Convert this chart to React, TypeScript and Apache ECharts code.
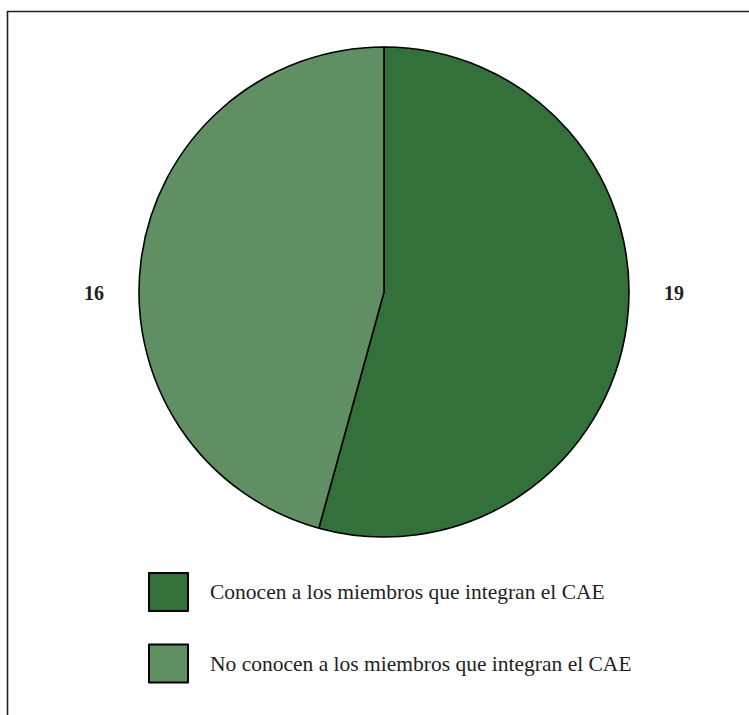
import React, { useEffect, useRef } from "react";
import * as echarts from "echarts";

const categories = [
  "Conocen a los miembros que integran el CAE",
  "No conocen a los miembros que integran el CAE",
];
const values = [19, 16];
const colors = ["#33703a", "#5f8f63"];

const CX = 384;
const CY = 292;
const R = 245;
const LABEL_OFFSET = 290;
const FONT = "'Liberation Serif', 'Times New Roman', serif";

export default function App() {
  const ref = useRef<HTMLDivElement>(null);
  useEffect(() => {
    if (!ref.current) return;
    const chart = echarts.init(ref.current, null, { renderer: "svg" });
    chart.setOption({
      animation: false,
      backgroundColor: "#ffffff",
      graphic: [
        {
          type: "polyline",
          shape: { points: [[7.5, 715], [7.5, 11.5], [749, 11.5]] },
          style: { stroke: "#231f20", lineWidth: 1.6, fill: null },
          silent: true,
        },
      ],
      legend: {
        orient: "vertical",
        left: 148,
        top: 572,
        padding: 0,
        icon: "rect",
        itemWidth: 39,
        itemHeight: 38,
        itemGap: 31.5,
        selectedMode: false,
        itemStyle: { borderColor: "#000", borderWidth: 2 },
        textStyle: {
          fontFamily: FONT,
          fontSize: 21.5,
          color: "#231f20",
          padding: [0, 0, 0, 17],
        },
        data: categories,
      },
      series: [
        {
          type: "pie",
          center: [CX, CY],
          radius: R,
          startAngle: 90,
          clockwise: true,
          itemStyle: { borderColor: "#000", borderWidth: 1.6 },
          label: {
            show: true,
            position: "outside",
            formatter: "{c}",
            fontFamily: FONT,
            fontSize: 20,
            fontWeight: "bold",
            color: "#231f20",
          },
          labelLine: { show: false },
          labelLayout: (params: any) => ({
            x: params.dataIndex === 0 ? CX + LABEL_OFFSET : CX - LABEL_OFFSET,
            y: CY + 1,
            align: "center",
            verticalAlign: "middle",
          }),
          emphasis: { disabled: true },
          data: categories.map((name, i) => ({
            name,
            value: values[i],
            itemStyle: { color: colors[i] },
          })),
        },
      ],
    });
    return () => chart.dispose();
  }, []);
  return (
    <div
      ref={ref}
      style={{ position: "absolute", left: 0, top: 0, width: 749, height: 715 }}
    />
  );
}
